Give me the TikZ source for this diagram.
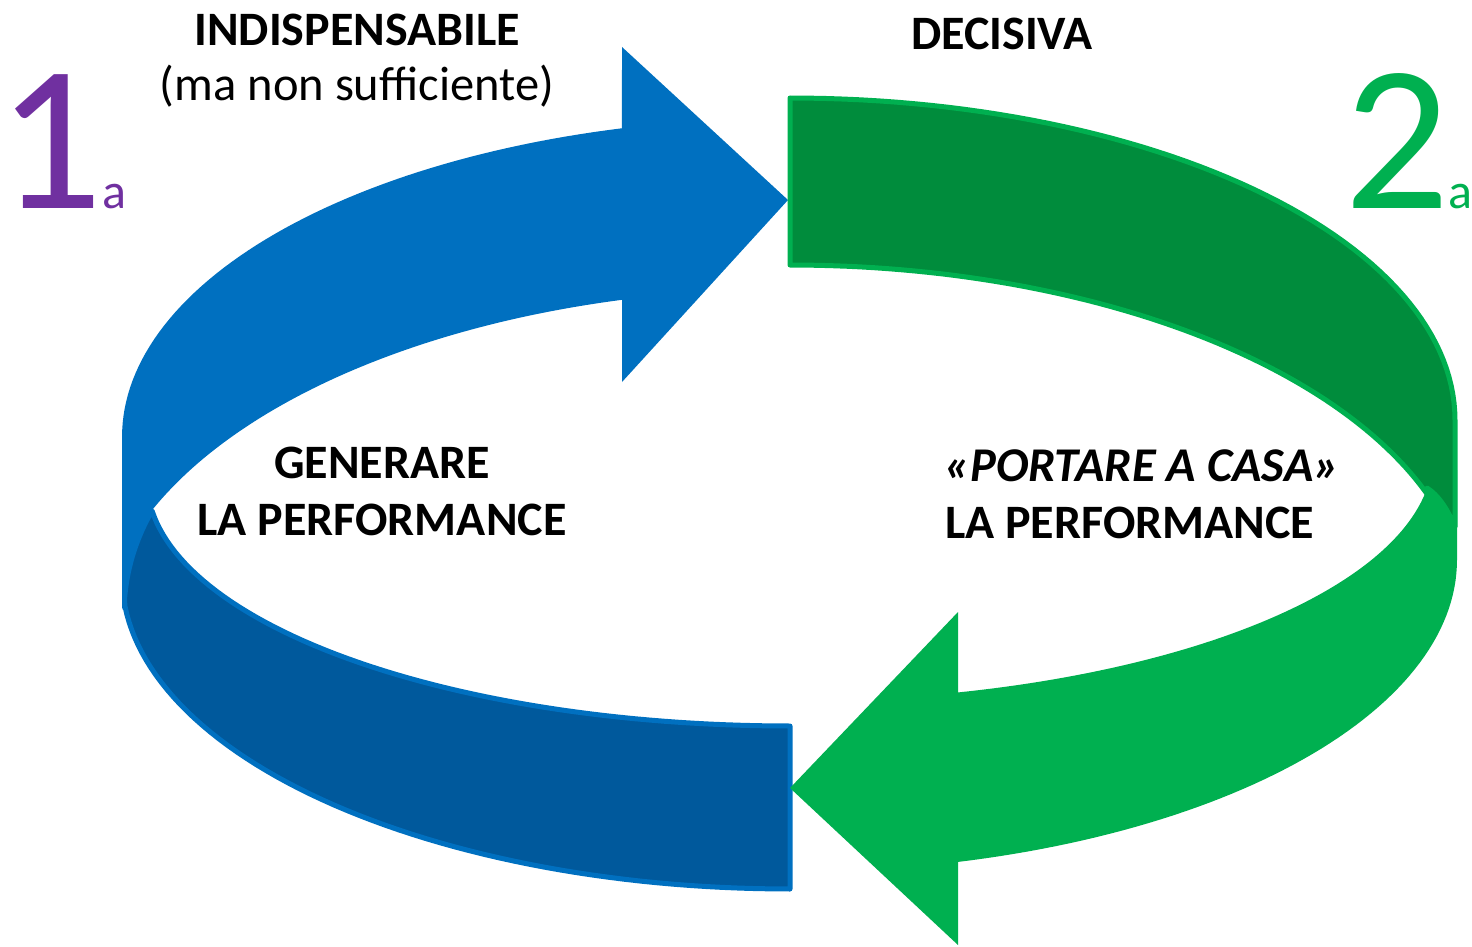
\documentclass[tikz,border=0pt]{standalone}
\usepackage{fontspec}
\setmainfont{Carlito}
\definecolor{bluelight}{HTML}{0070C0}
\definecolor{bluedark}{HTML}{00599C}
\definecolor{greenlight}{HTML}{00B050}
\definecolor{greendark}{HTML}{008C3C}
\definecolor{purp}{HTML}{7030A0}
\tikzset{
  bigtxt/.style={inner sep=0pt, anchor=base, font=\fontsize{48}{56}\selectfont\bfseries},
  regtxt/.style={inner sep=0pt, anchor=base, font=\fontsize{48.5}{56}\selectfont},
  numtxt/.style={inner sep=0pt, anchor=base, font=\fontsize{208}{220}\selectfont},
  suptxt/.style={inner sep=0pt, anchor=base, font=\fontsize{50}{60}\selectfont},
  darkpiece/.style={line width=5pt, line join=round}
}
\begin{document}
\begin{tikzpicture}[x=1pt,y=-1pt]
\useasboundingbox (0,0) rectangle (1472,947);

% light blue arrow (upper left)
\fill[bluelight] (122,610) -- (122,437)
  -- plot[domain=180:104.57, samples=60, variable=\t] ({790+668*cos(\t)},{437-319*sin(\t)})
  -- (622,47) -- (788,200) -- (622,382) -- (622,300)
  -- plot[domain=104.05:157.0, samples=60, variable=\t] ({790+692*cos(\t)},{650-361*sin(\t)})
  -- (140,560) -- cycle;

% dark blue lower piece
\filldraw[bluedark, draw=bluelight, darkpiece] (152,511)
  .. controls (138,535) and (127,565) .. (124.5,600)
  -- plot[domain=174.6:90, samples=60, variable=\t] ({790+668*cos(\t)},{577+312*sin(\t)})
  -- (790,726)
  -- plot[domain=90:172.8, samples=60, variable=\t] ({790+643*cos(\t)},{480+246*sin(\t)})
  -- cycle;

% light green arrow (lower right)
\fill[greenlight] (1427,488)
  -- plot[domain=7.83:74.85, samples=60, variable=\t] ({790+643*cos(\t)},{455+246*sin(\t)})
  -- (958,612) -- (790,788) -- (958,945) -- (958,862)
  -- plot[domain=75.4:0, samples=60, variable=\t] ({790+667*cos(\t)},{560+312*sin(\t)})
  -- (1457,470) -- cycle;

% dark green upper piece
\filldraw[greendark, draw=greenlight, darkpiece] (790,98)
  -- plot[domain=90:0, samples=60, variable=\t] ({790+665*cos(\t)},{420-322*sin(\t)})
  -- (1455,527)
  .. controls (1447,508) and (1438,495) .. (1427,488)
  -- plot[domain=20.3:90, samples=60, variable=\t] ({790+679*cos(\t)},{615-350*sin(\t)})
  -- cycle;

% texts
\node[bigtxt] (t1) at (357,46) {INDISPENSABILE};
\node[regtxt] (t2) at (357,101) {(ma non sufficiente)};
\node[bigtxt] (t3) at (1002,50) {DECISIVA};
\node[bigtxt] (t4) at (382,478) {GENERARE};
\node[bigtxt] (t5) at (382,535) {LA PERFORMANCE};
\node[bigtxt, anchor=base west, font=\fontsize{48.5}{56}\selectfont\bfseries\itshape] (t6) at (944,481) {«PORTARE A CASA»};
\node[bigtxt, anchor=base west] (t7) at (945,538) {LA PERFORMANCE};

\node[numtxt, text=purp] (n1) at (50,208) {1};
\node[suptxt, text=purp] (s1) at (114,208) {a};
\node[numtxt, text=greenlight] (n2) at (1397,208) {2};
\node[suptxt, text=greenlight] (s2) at (1460,208) {a};
\end{tikzpicture}
\end{document}
